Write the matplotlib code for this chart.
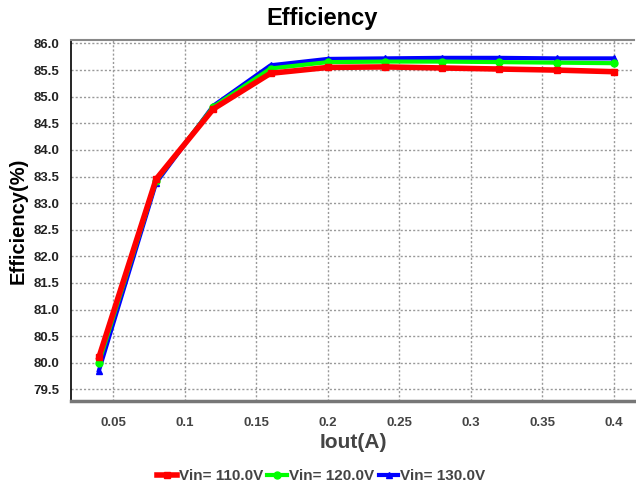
import matplotlib
matplotlib.use("Agg")
from matplotlib import pyplot as plt

plt.rcParams['font.family'] = ['Liberation Sans', 'DejaVu Sans']

# 输出电流 (A)
iout = [0.04, 0.08, 0.12, 0.16, 0.2, 0.24, 0.28, 0.32, 0.36, 0.4]

# 各输入电压下的效率 (%)
eff_110 = [80.10, 83.45, 84.77, 85.44, 85.55, 85.56, 85.54, 85.52, 85.50, 85.47]
eff_120 = [80.00, 83.42, 84.81, 85.53, 85.65, 85.66, 85.66, 85.65, 85.64, 85.63]
eff_130 = [79.85, 83.38, 84.83, 85.59, 85.71, 85.72, 85.73, 85.73, 85.72, 85.72]

labels = ["Vin= 110.0V", "Vin= 120.0V", "Vin= 130.0V"]
yticks = [79.5, 80.0, 80.5, 81.0, 81.5, 82.0, 82.5, 83.0, 83.5, 84.0, 84.5, 85.0, 85.5, 86.0]
xticks = [0.05, 0.1, 0.15, 0.2, 0.25, 0.3, 0.35, 0.4]


def draw_efficiency_chart(file_name="out.png"):
    fig = plt.figure(figsize=(6.36, 4.90), dpi=100)
    ax = fig.add_axes([0.1116, 0.1822, 0.885, 0.7362])

    # 蓝色先画, 红色在最上层
    ax.plot(iout, eff_130, color="#0000ff", lw=3, marker="^", ms=5, label=labels[2], zorder=3)
    ax.plot(iout, eff_120, color="#00ff00", lw=3, marker="o", ms=5, label=labels[1], zorder=4)
    ax.plot(iout, eff_110, color="#ff0000", lw=4, marker="s", ms=5, label=labels[0], zorder=5)

    ax.set_xlim(0.0205, 0.414)
    ax.set_ylim(79.286, 86.066)
    ax.set_xticks(xticks)
    ax.set_xticklabels([f"{v:g}" for v in xticks])
    ax.set_yticks(yticks)
    ax.set_yticklabels([f"{v:.1f}" for v in yticks])
    ax.tick_params(length=0, pad=8)
    for t in ax.get_yticklabels():
        t.set_fontsize(9.5)
        t.set_fontweight("bold")
        t.set_color("#222222")
    for t in ax.get_xticklabels():
        t.set_fontsize(9.5)
        t.set_fontweight("bold")
        t.set_color("#444444")
    ax.xaxis.set_tick_params(pad=12)

    ax.grid(True, color="#999999", ls=(0, (1.5, 1.5)), lw=1)
    ax.set_axisbelow(True)

    ax.spines["right"].set_visible(False)
    ax.spines["left"].set_color("black")
    ax.spines["left"].set_linewidth(1.2)
    ax.spines["top"].set_color("#888888")
    ax.spines["top"].set_linewidth(1.5)
    ax.spines["bottom"].set_color("#777777")
    ax.spines["bottom"].set_linewidth(2.5)

    fig.text(0.506, 0.963, "Efficiency", ha="center", va="center", fontsize=17, fontweight="bold")
    fig.text(0.028, 0.55, "Efficiency(%)", ha="center", va="center", rotation=90,
             fontsize=14.5, fontweight="bold")
    fig.text(0.556, 0.097, "Iout(A)", ha="center", va="center", fontsize=15,
             fontweight="bold", color="#444444")

    handles, lbls = ax.get_legend_handles_labels()
    order = [2, 1, 0]
    leg = fig.legend([handles[i] for i in order], [lbls[i] for i in order],
                     loc="center", bbox_to_anchor=(0.505, 0.028), ncol=3, frameon=False,
                     handlelength=1.3, handletextpad=0.1, columnspacing=0.3,
                     prop={"weight": "bold", "size": 11})
    for t in leg.get_texts():
        t.set_color("#444444")

    fig.savefig(file_name, dpi=100)


draw_efficiency_chart()
